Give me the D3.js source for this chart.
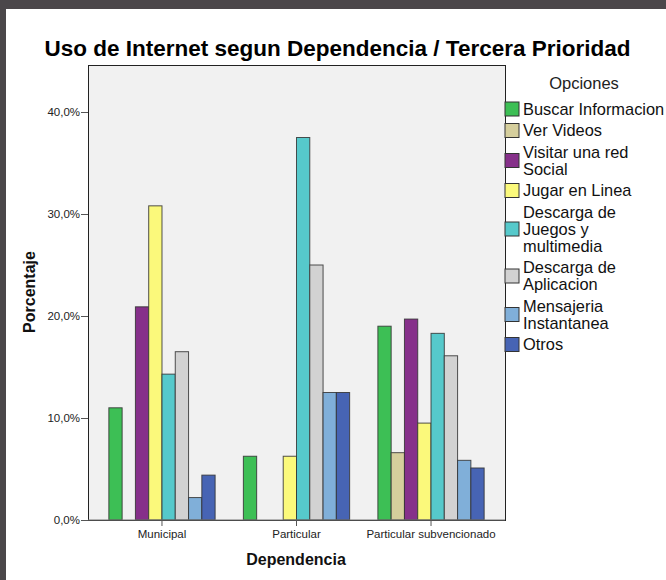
<!DOCTYPE html>
<html lang="es">
<head>
<meta charset="UTF-8" />
<title>Uso de Internet</title>
<script src="https://cdn.jsdelivr.net/npm/d3@7"></script>
<style>
  body { margin: 0; background: #4b474a; }
  svg { display: block; font-family: "Liberation Sans", Arial, sans-serif; }
</style>
</head>
<body>
<svg id="svg"></svg>
<script>
  const categories = ["Municipal", "Particular", "Particular subvencionado"];
  const options = [
    "Buscar Informacion", "Ver Videos", "Visitar una red Social", "Jugar en Linea",
    "Descarga de Juegos y multimedia", "Descarga de Aplicacion", "Mensajeria Instantanea", "Otros"
  ];
  // legend text wrapped like the original
  const legendLines = [
    ["Buscar Informacion"], ["Ver Videos"], ["Visitar una red", "Social"], ["Jugar en Linea"],
    ["Descarga de", "Juegos y", "multimedia"], ["Descarga de", "Aplicacion"],
    ["Mensajeria", "Instantanea"], ["Otros"]
  ];
  const colors = ["#3dbf55", "#d5ce9c", "#86308a", "#fbf97b", "#56c9cb", "#d2d2d2", "#80afd9", "#4764b4"];
  // percent per option, one array per dependencia
  const municipal = [11.0, 0, 20.9, 30.8, 14.3, 16.5, 2.2, 4.4];
  const particular = [6.25, 0, 0, 6.25, 37.5, 25.0, 12.5, 12.5];
  const subvencionado = [19.0, 6.6, 19.7, 9.5, 18.3, 16.1, 5.85, 5.1];
  const yTicks = [0, 10, 20, 30, 40];

  const values = [municipal, particular, subvencionado];

  const width = 666, height = 580;
  const svg = d3.select("#svg").attr("width", width).attr("height", height);

  // white panel inside the dark frame
  svg.append("rect").attr("x", 6).attr("y", 9).attr("width", width - 6).attr("height", height - 9).attr("fill", "#fff");

  const plot = { left: 88, right: 505, top: 65, bottom: 520 };

  const y = d3.scaleLinear().domain([0, 40]).range([plot.bottom, plot.bottom - 408]);
  const x = d3.scaleBand().domain(categories).range([plot.left, plot.right])
    .paddingInner(0.21).paddingOuter(0.155);
  const xi = d3.scaleBand().domain(options).range([0, x.bandwidth()]);

  svg.append("rect")
    .attr("x", plot.left).attr("y", plot.top)
    .attr("width", plot.right - plot.left).attr("height", plot.bottom - plot.top)
    .attr("fill", "#f1f1f1").attr("stroke", "#222").attr("stroke-width", 1)
    .attr("shape-rendering", "crispEdges");

  // bars
  categories.forEach((c, ci) => {
    const g = svg.append("g").attr("transform", `translate(${x(c)},0)`);
    g.selectAll("rect").data(values[ci]).join("rect")
      .attr("x", (d, i) => xi(options[i]))
      .attr("y", d => y(d))
      .attr("width", xi.bandwidth())
      .attr("height", d => y(0) - y(d))
      .attr("fill", (d, i) => colors[i])
      .attr("stroke", "#333").attr("stroke-opacity", 0.85).attr("stroke-width", 1);
  });

  // y axis
  const yAxis = d3.axisLeft(y).tickValues(yTicks).tickSize(7).tickPadding(1)
    .tickFormat(d => d3.format(".1f")(d).replace(".", ",") + "%");
  const ya = svg.append("g").attr("transform", `translate(${plot.left},0)`).call(yAxis);
  ya.select(".domain").remove();
  ya.selectAll(".tick line").attr("stroke", "#555");
  ya.selectAll(".tick text").attr("font-size", 11.5).attr("fill", "#222").attr("font-family", "Liberation Sans, Arial");

  // x axis
  const xAxis = d3.axisBottom(x).tickSize(6).tickPadding(4);
  const xa = svg.append("g").attr("transform", `translate(0,${plot.bottom})`).call(xAxis);
  xa.select(".domain").attr("stroke", "#777").attr("d", `M${plot.left},0H${plot.right}`);
  xa.selectAll(".tick line").attr("stroke", "#555");
  xa.selectAll(".tick text").attr("font-size", 11.5).attr("fill", "#222").attr("font-family", "Liberation Sans, Arial");

  // titles
  svg.append("text").text("Uso de Internet segun Dependencia / Tercera Prioridad")
    .attr("x", 337.5).attr("y", 56).attr("text-anchor", "middle")
    .attr("font-size", 22.5).attr("font-weight", "bold").attr("fill", "#000");
  svg.append("text").text("Dependencia")
    .attr("x", 296).attr("y", 565).attr("text-anchor", "middle")
    .attr("font-size", 16).attr("font-weight", "bold").attr("fill", "#111");
  svg.append("text").text("Porcentaje")
    .attr("transform", "translate(35,292) rotate(-90)").attr("text-anchor", "middle")
    .attr("font-size", 16).attr("font-weight", "bold").attr("fill", "#111");

  // legend
  const leg = svg.append("g");
  leg.append("text").text("Opciones").attr("x", 584).attr("y", 83)
    .attr("dy", "0.35em").attr("text-anchor", "middle").attr("font-size", 16.5).attr("fill", "#222");
  let ly = 109;
  legendLines.forEach((lines, i) => {
    const first = ly, last = ly + (lines.length - 1) * 17;
    const mid = (first + last) / 2;
    leg.append("rect").attr("x", 505).attr("y", mid - 7).attr("width", 14).attr("height", 14)
      .attr("fill", colors[i]).attr("stroke", "#333").attr("stroke-width", 1);
    lines.forEach((t, k) => {
      leg.append("text").text(t).attr("x", 523).attr("y", first + k * 17)
        .attr("dy", "0.35em").attr("font-size", 16.4).attr("fill", "#111");
    });
    ly = last + 21.5;
  });
</script>
</body>
</html>
